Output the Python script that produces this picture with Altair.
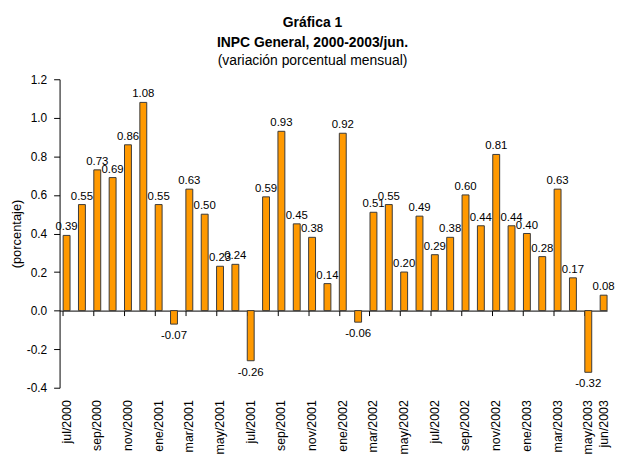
import altair as alt
import pandas as pd

months = [
    "jul/2000", "ago/2000", "sep/2000", "oct/2000", "nov/2000", "dic/2000",
    "ene/2001", "feb/2001", "mar/2001", "abr/2001", "may/2001", "jun/2001",
    "jul/2001", "ago/2001", "sep/2001", "oct/2001", "nov/2001", "dic/2001",
    "ene/2002", "feb/2002", "mar/2002", "abr/2002", "may/2002", "jun/2002",
    "jul/2002", "ago/2002", "sep/2002", "oct/2002", "nov/2002", "dic/2002",
    "ene/2003", "feb/2003", "mar/2003", "abr/2003", "may/2003", "jun/2003",
]
values = [
    0.39, 0.55, 0.73, 0.69, 0.86, 1.08,
    0.55, -0.07, 0.63, 0.50, 0.23, 0.24,
    -0.26, 0.59, 0.93, 0.45, 0.38, 0.14,
    0.92, -0.06, 0.51, 0.55, 0.20, 0.49,
    0.29, 0.38, 0.60, 0.44, 0.81, 0.44,
    0.40, 0.28, 0.63, 0.17, -0.32, 0.08,
]
axis_labels = [
    "jul/2000", "sep/2000", "nov/2000", "ene/2001", "mar/2001", "may/2001",
    "jul/2001", "sep/2001", "nov/2001", "ene/2002", "mar/2002", "may/2002",
    "jul/2002", "sep/2002", "nov/2002", "ene/2003", "mar/2003", "may/2003",
    "jun/2003",
]
tick_months = axis_labels[:-1]
y_ticks = [-0.4, -0.2, 0.0, 0.2, 0.4, 0.6, 0.8, 1.0, 1.2]

df = pd.DataFrame({
    "mes": months,
    "valor": values,
    "texto": [f"{v:.2f}" for v in values],
})

W, H = 552, 311
FONT = "Liberation Sans"
y_min, y_max = -0.4, 1.2
zero_offset = -H * (0 - y_min) / (y_max - y_min)

xscale = alt.Scale(paddingInner=0.55, paddingOuter=0.116, align=1)
yscale = alt.Scale(domain=[y_min, y_max], nice=False, zero=False)

yaxis = alt.Axis(
    values=y_ticks, labelOverlap=False,
    labelExpr="replace(format(datum.value, '.1f'), '\u2212', '-')",
    grid=False, domainColor="#000000", tickColor="#000000", tickSize=6,
    labelFont=FONT, labelFontSize=12, labelColor="#000000", labelPadding=7,
    title="(porcentaje)", titleFont=FONT, titleFontSize=13,
    titleFontWeight="normal", titleColor="#000000", titlePadding=3,
)

Y = alt.Y("valor:Q", scale=yscale, axis=yaxis)

base = alt.Chart(df)

bars = base.mark_bar(color="#FF9900", stroke="#3a3a3a", strokeWidth=1).encode(
    x=alt.X("mes:N", sort=months, scale=xscale, axis=alt.Axis(
        orient="bottom", values=axis_labels, labelAngle=270, domain=False,
        ticks=False, labelPadding=12, labelFont=FONT, labelFontSize=12.5,
        labelColor="#000000", title=None, labelOverlap=False,
    )),
    y=Y,
)

zero_axis = base.mark_rule(opacity=0).encode(
    x=alt.X("mes:N", sort=months, scale=xscale, axis=alt.Axis(
        orient="bottom", offset=zero_offset, values=tick_months,
        bandPosition=0, labels=False, ticks=True, tickSize=5,
        tickColor="#000000", domain=True, domainColor="#000000", title=None,
    )),
    y=Y,
)

pos_text = base.transform_filter("datum.valor >= 0").mark_text(
    baseline="bottom", dy=-3, font=FONT, fontSize=11.5, color="#000000"
).encode(
    x=alt.X("mes:N", sort=months, scale=xscale, axis=None),
    y=Y,
    text="texto:N",
)

neg_text = base.transform_filter("datum.valor < 0").mark_text(
    baseline="top", dy=6, font=FONT, fontSize=11.5, color="#000000"
).encode(
    x=alt.X("mes:N", sort=months, scale=xscale, axis=None),
    y=Y,
    text="texto:N",
)

chart = alt.layer(bars, zero_axis, pos_text, neg_text).resolve_axis(
    x="independent"
).properties(
    width=W, height=H,
    padding={"left": 2, "right": 0, "top": 6, "bottom": 0},
    title=alt.Title(
        text=["Gráfica 1", "INPC General, 2000-2003/jun."],
        subtitle="(variación porcentual mensual)",
        font=FONT, fontSize=14, fontWeight="bold", color="#000000",
        lineHeight=20,
        subtitleFont=FONT, subtitleFontSize=14, subtitleColor="#000000",
        subtitlePadding=4, anchor="middle", frame="bounds", offset=5.5,
    ),
).configure_view(strokeWidth=0)

chart.save("out.html", embed_options={"renderer": "svg", "actions": False})
